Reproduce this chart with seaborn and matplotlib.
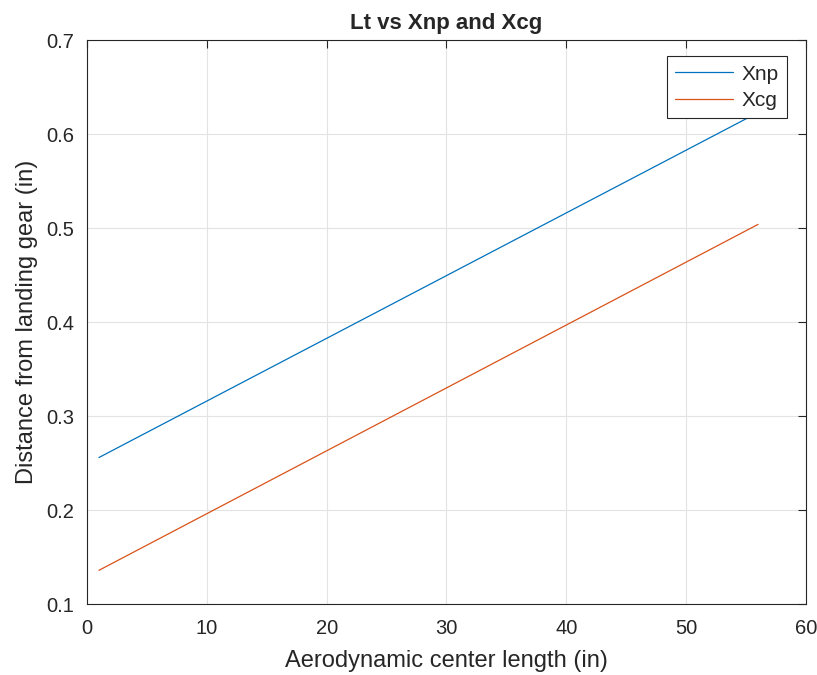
import numpy as np
import pandas as pd
import matplotlib
matplotlib.use("Agg")
import matplotlib.pyplot as plt
import seaborn as sns

# endpoints of the two straight lines
lt = [1, 56]
xnp = [0.256, 0.623]
xcg = [0.136, 0.504]

df = pd.DataFrame({
    "Lt": lt + lt,
    "value": xnp + xcg,
    "series": ["Xnp"] * len(lt) + ["Xcg"] * len(lt),
})

sns.set_style("white")
plt.rcParams["font.family"] = ["Liberation Sans", "DejaVu Sans"]

fig = plt.figure(figsize=(8.17, 6.75), dpi=100)
ax = fig.add_axes([0.1065, 0.105, 0.88, 0.8355])

sns.lineplot(
    data=df, x="Lt", y="value", hue="series",
    palette={"Xnp": "#0072BD", "Xcg": "#D95319"},
    linewidth=0.9, ax=ax,
)

ax.set_xlim(0, 60)
ax.set_ylim(0.1, 0.7)
ax.set_xticks(np.arange(0, 61, 10))
ax.set_yticks(np.arange(0.1, 0.71, 0.1))
ax.set_yticklabels([f"{v:.1f}" for v in np.arange(0.1, 0.71, 0.1)])
ax.grid(True, color="#e3e3e3", linewidth=0.8)
ax.tick_params(direction="in", length=5.5, width=0.8, colors="#262626",
               labelsize=14.5, top=True, right=True)
ax.tick_params(axis="x", pad=11)
ax.tick_params(axis="y", pad=9)
for s in ax.spines.values():
    s.set_color("#262626")
    s.set_linewidth(0.8)

ax.set_xlabel("Aerodynamic center length (in)", fontsize=17, color="#262626", labelpad=8)
ax.set_ylabel("Distance from landing gear (in)", fontsize=17, color="#262626", labelpad=6)
ax.set_title("Lt vs Xnp and Xcg", fontsize=16, fontweight="bold", pad=8)

leg = ax.legend(loc="upper right", bbox_to_anchor=(0.9736, 0.9716), fontsize=15,
                frameon=True, fancybox=False, handlelength=2.8,
                borderpad=0.4, labelspacing=0.35, handletextpad=0.4,
                borderaxespad=0.0)
leg.get_frame().set_edgecolor("#262626")
leg.get_frame().set_linewidth(0.8)
leg.get_frame().set_alpha(1)

fig.savefig("out.png", dpi=100)
